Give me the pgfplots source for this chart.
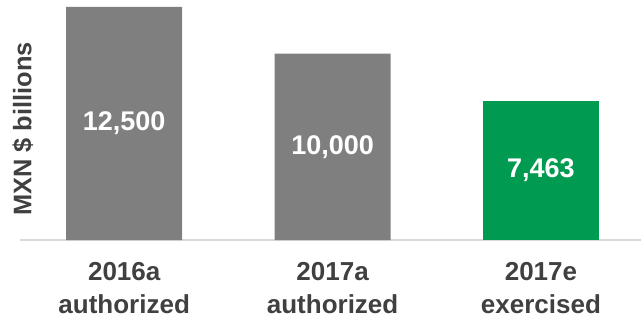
\documentclass[border=0pt]{standalone}
\usepackage{fontspec}
\setmainfont{Liberation Sans}[BoldFont={Liberation Sans Bold}]
\newfontfamily\bsans{Liberation Sans Bold}
\usepackage{pgfplots}
\pgfplotsset{compat=1.18}
\definecolor{barGray}{HTML}{7F7F7F}
\definecolor{barGreen}{HTML}{009A50}
\definecolor{txtGray}{HTML}{404040}
\definecolor{lineGray}{HTML}{D9D9D9}
\begin{document}
\begin{tikzpicture}[x=1bp,y=1bp]
\useasboundingbox (0,0) rectangle (641,322);
\begin{axis}[
  at={(20bp,82bp)}, anchor=south west,
  scale only axis, width=621bp, height=240bp,
  xmin=-0.5, xmax=2.48, ymin=0, ymax=12875,
  hide y axis,
  axis x line*=bottom,
  x axis line style={draw=lineGray, line width=1.5bp, -},
  xtick={0,1,2},
  xticklabels={2016a\\authorized, 2017a\\authorized, 2017e\\exercised},
  xticklabel style={align=center, text=txtGray, font=\bsans\fontsize{26bp}{33bp}\selectfont, yshift=-19bp},
  major tick length=0pt,
  ybar, bar width=116bp, bar shift=0pt,
  clip=false,
]
\addplot[fill=barGray, draw=none] coordinates {(0,12500) (1,10000)};
\addplot[fill=barGreen, draw=none] coordinates {(2,7463)};
\node[text=white, font=\bsans\fontsize{27bp}{30bp}\selectfont] at (axis cs:0,6250) {12,500};
\node[text=white, font=\bsans\fontsize{27bp}{30bp}\selectfont] at (axis cs:1,5000) {10,000};
\node[text=white, font=\bsans\fontsize{27bp}{30bp}\selectfont] at (axis cs:2,3731) {7,463};
\end{axis}
\node[rotate=90, text=txtGray, font=\bsans\fontsize{25.4bp}{30bp}\selectfont] at (23,193) {MXN \$ billions};
\end{tikzpicture}
\end{document}
